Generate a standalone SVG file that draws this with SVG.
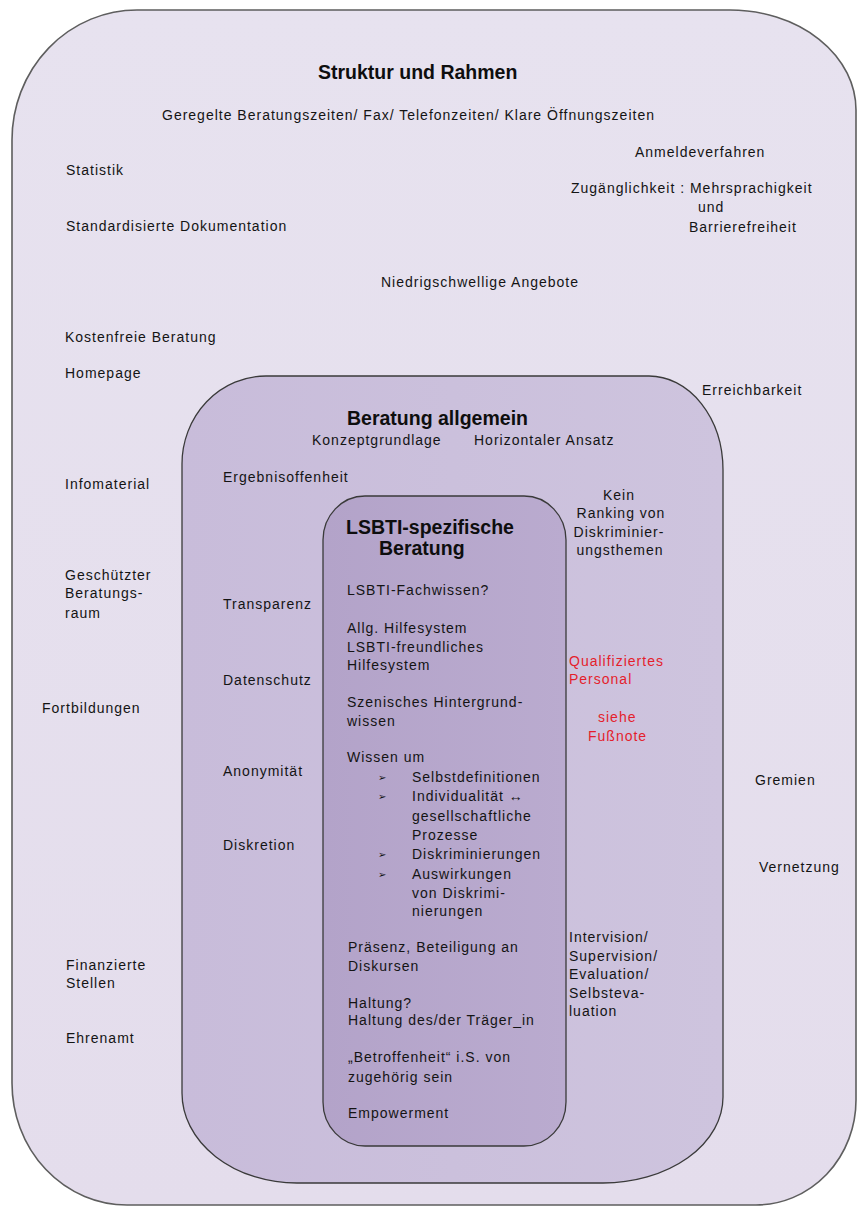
<svg xmlns="http://www.w3.org/2000/svg" width="857" height="1207" viewBox="0 0 857 1207">
<style>
  text { font-family: "Liberation Sans", Arial, sans-serif; font-size: 14px; letter-spacing: 1px; fill: #141414; }
  .title { font-size: 19.5px; font-weight: bold; letter-spacing: 0; fill: #0e0e0e; }
  .red { fill: #e41e2c; }
  .mid { text-anchor: middle; }
  .bul { font-family: "DejaVu Sans", sans-serif; font-size: 10px; letter-spacing: 0; }
  .box { stroke-linejoin: round; }
</style>
<defs>
  <linearGradient id="gOuter" x1="0" y1="0" x2="0" y2="1">
    <stop offset="0" stop-color="#e7e2ef"/>
    <stop offset="1" stop-color="#e4ddec"/>
  </linearGradient>
  <linearGradient id="gMid" x1="0" y1="0" x2="1" y2="0">
    <stop offset="0" stop-color="#c8bcda"/>
    <stop offset="0.5" stop-color="#cbc0dc"/>
    <stop offset="1" stop-color="#cec4de"/>
  </linearGradient>
  <linearGradient id="gIn" x1="0" y1="0" x2="1" y2="0">
    <stop offset="0" stop-color="#b3a3c9"/>
    <stop offset="1" stop-color="#baabcf"/>
  </linearGradient>
</defs>
<rect width="857" height="1207" fill="#ffffff"/>

<g id="node-struktur">
  <path class="box" d="M 137,10 H 730 A 126,100 0 0 1 856,110 V 1100 A 100,105 0 0 1 756,1205 H 127 A 115,122 0 0 1 12,1083 V 140 A 125,130 0 0 1 137,10 Z" fill="url(#gOuter)" stroke="#5e5e5e" stroke-width="1.6"/>
  <text class="title" x="318" y="79">Struktur und Rahmen</text>
  <text x="162" y="120">Geregelte Beratungszeiten/ Fax/ Telefonzeiten/ Klare Öffnungszeiten</text>
  <text x="635" y="157">Anmeldeverfahren</text>
  <text x="66" y="175">Statistik</text>
  <text x="571" y="193">Zugänglichkeit : Mehrsprachigkeit</text>
  <text x="698" y="212">und</text>
  <text x="689" y="232">Barrierefreiheit</text>
  <text x="66" y="231">Standardisierte Dokumentation</text>
  <text x="381" y="287">Niedrigschwellige Angebote</text>
  <text x="65" y="342">Kostenfreie Beratung</text>
  <text x="65" y="378">Homepage</text>
  <text x="702" y="395">Erreichbarkeit</text>
  <text x="65" y="489">Infomaterial</text>
  <text x="65" y="580">Geschützter</text>
  <text x="65" y="598">Beratungs-</text>
  <text x="65" y="618">raum</text>
  <text x="42" y="713">Fortbildungen</text>
  <text x="755" y="785">Gremien</text>
  <text x="759" y="872">Vernetzung</text>
  <text x="66" y="970">Finanzierte</text>
  <text x="66" y="988">Stellen</text>
  <text x="66" y="1043">Ehrenamt</text>
</g>

<g id="node-beratung-allgemein">
  <path class="box" d="M 266,376 H 649 A 74,94 0 0 1 723,470 V 1097 A 120,86 0 0 1 603,1183 H 297 A 115,90 0 0 1 182,1093 V 464 A 84,88 0 0 1 266,376 Z" fill="url(#gMid)" stroke="#3a3a3a" stroke-width="1.3"/>
  <text class="title" x="347" y="425">Beratung allgemein</text>
  <text x="312" y="445">Konzeptgrundlage</text>
  <text x="474" y="445">Horizontaler Ansatz</text>
  <text x="223" y="482">Ergebnisoffenheit</text>
  <text class="mid" x="619" y="500">Kein</text>
  <text class="mid" x="621" y="518">Ranking von</text>
  <text class="mid" x="619" y="537">Diskriminier-</text>
  <text class="mid" x="620" y="555">ungsthemen</text>
  <text x="223" y="609">Transparenz</text>
  <text x="223" y="685">Datenschutz</text>
  <text x="223" y="776">Anonymität</text>
  <text x="223" y="850">Diskretion</text>
  <text class="red" x="569" y="666">Qualifiziertes</text>
  <text class="red" x="569" y="684">Personal</text>
  <text class="red" x="598" y="722">siehe</text>
  <text class="red" x="588" y="741">Fußnote</text>
  <text x="569" y="942">Intervision/</text>
  <text x="569" y="961">Supervision/</text>
  <text x="569" y="979">Evaluation/</text>
  <text x="569" y="998">Selbsteva-</text>
  <text x="569" y="1016">luation</text>
</g>

<g id="node-lsbti">
  <rect class="box" x="323" y="496" width="243" height="650" rx="42" ry="44" fill="url(#gIn)" stroke="#3a3a3a" stroke-width="1.3"/>
  <text class="title" x="346" y="534">LSBTI-spezifische</text>
  <text class="title" x="379" y="555">Beratung</text>
  <text x="347" y="595">LSBTI-Fachwissen?</text>
  <text x="347" y="633">Allg. Hilfesystem</text>
  <text x="347" y="652">LSBTI-freundliches</text>
  <text x="347" y="670">Hilfesystem</text>
  <text x="347" y="707">Szenisches Hintergrund-</text>
  <text x="347" y="726">wissen</text>
  <text x="347" y="762">Wissen um</text>
  <text class="bul" x="378" y="781">➢</text>
  <text x="412" y="782">Selbstdefinitionen</text>
  <text class="bul" x="378" y="800">➢</text>
  <text x="412" y="801">Individualität ↔</text>
  <text x="412" y="821">gesellschaftliche</text>
  <text x="412" y="840">Prozesse</text>
  <text class="bul" x="378" y="858">➢</text>
  <text x="412" y="859">Diskriminierungen</text>
  <text class="bul" x="378" y="878">➢</text>
  <text x="412" y="879">Auswirkungen</text>
  <text x="412" y="898">von Diskrimi-</text>
  <text x="412" y="916">nierungen</text>
  <text x="348" y="952">Präsenz, Beteiligung an</text>
  <text x="348" y="971">Diskursen</text>
  <text x="348" y="1008">Haltung?</text>
  <text x="348" y="1025">Haltung des/der Träger_in</text>
  <text x="348" y="1062">„Betroffenheit“ i.S. von</text>
  <text x="348" y="1082">zugehörig sein</text>
  <text x="348" y="1118">Empowerment</text>
</g>

<g id="connectors"></g>
</svg>
